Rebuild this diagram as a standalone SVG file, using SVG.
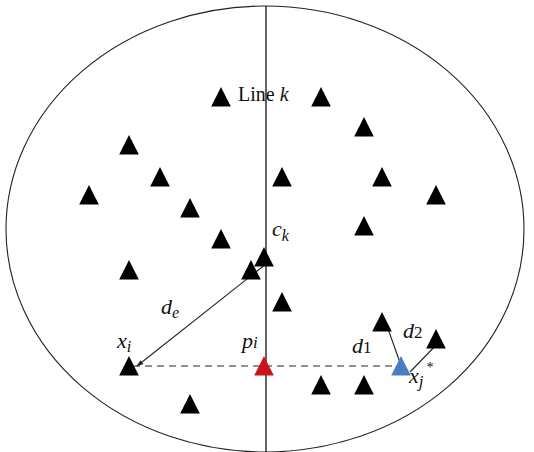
<svg xmlns="http://www.w3.org/2000/svg" width="534" height="452" viewBox="0 0 534 452">
<defs>
<style>
.tri{fill:#000}
.lbl{font-family:"Liberation Serif","DejaVu Serif",serif;fill:#111}
.it{font-style:italic}
.ln{stroke:#222;stroke-width:1.1;fill:none}
</style>
<marker id="ah" viewBox="0 0 10 10" refX="9" refY="5" markerWidth="8" markerHeight="7" orient="auto" markerUnits="userSpaceOnUse">
<path d="M0,1.5 L10,5 L0,8.5 z" fill="#222"/>
</marker>
<path id="t" d="M0,-10 L9.8,9.5 L-9.8,9.5 z"/>
</defs>
<rect width="534" height="452" fill="#fff"/>
<ellipse cx="265" cy="229" rx="259" ry="223" fill="none" stroke="#222" stroke-width="1.1"/>
<g id="connectors">
<line x1="266" y1="6" x2="266" y2="452" stroke="#111" stroke-width="1.3"/>
<line x1="133" y1="366" x2="400" y2="366" stroke="#222" stroke-width="1.1" stroke-dasharray="7,5"/>
<line class="ln" x1="266" y1="264" x2="137" y2="366" marker-end="url(#ah)"/>
<line class="ln" x1="403" y1="371" x2="387" y2="326"/>
<line class="ln" x1="410" y1="372" x2="440" y2="341"/>
</g>
<g id="nodes">
<g id="n1"><use href="#t" x="221" y="97" class="tri"/></g>
<g id="n2"><use href="#t" x="321" y="97" class="tri"/></g>
<g id="n3"><use href="#t" x="364" y="127" class="tri"/></g>
<g id="n4"><use href="#t" x="129" y="145" class="tri"/></g>
<g id="n5"><use href="#t" x="160" y="177" class="tri"/></g>
<g id="n6"><use href="#t" x="282" y="177" class="tri"/></g>
<g id="n7"><use href="#t" x="382" y="177" class="tri"/></g>
<g id="n8"><use href="#t" x="89" y="195" class="tri"/></g>
<g id="n9"><use href="#t" x="436" y="195" class="tri"/></g>
<g id="n10"><use href="#t" x="190" y="208" class="tri"/></g>
<g id="n11"><use href="#t" x="364" y="226" class="tri"/></g>
<g id="n12"><use href="#t" x="221" y="239" class="tri"/></g>
<g id="ck"><use href="#t" x="264" y="257" class="tri"/></g>
<g id="n14"><use href="#t" x="251" y="270" class="tri"/></g>
<g id="n15"><use href="#t" x="129" y="270" class="tri"/></g>
<g id="n16"><use href="#t" x="282" y="302" class="tri"/></g>
<g id="n17"><use href="#t" x="382" y="322" class="tri"/></g>
<g id="n18"><use href="#t" x="436" y="339" class="tri"/></g>
<g id="xi"><use href="#t" x="129" y="366" class="tri"/></g>
<g id="pi"><use href="#t" x="264" y="366" fill="#c8141e"/></g>
<g id="xj"><use href="#t" x="401" y="366" fill="#4a7cc4"/></g>
<g id="n19"><use href="#t" x="321" y="385" class="tri"/></g>
<g id="n20"><use href="#t" x="364" y="385" class="tri"/></g>
<g id="n21"><use href="#t" x="190" y="404" class="tri"/></g>
</g>
<g id="labels">
<text class="lbl" x="238" y="101" font-size="20">Line <tspan class="it">k</tspan></text>
<text class="lbl it" x="272" y="236" font-size="22">c<tspan font-size="16" dy="5">k</tspan></text>
<text class="lbl it" x="161" y="314" font-size="22">d<tspan font-size="16" dy="4">e</tspan></text>
<text class="lbl it" x="117" y="348" font-size="22">x<tspan font-size="16" dy="4">i</tspan></text>
<text class="lbl it" x="242" y="348" font-size="22">p<tspan font-size="17">i</tspan></text>
<text class="lbl it" x="352" y="353" font-size="22">d<tspan font-size="17" font-style="normal">1</tspan></text>
<text class="lbl it" x="403" y="338" font-size="22">d<tspan font-size="17" font-style="normal">2</tspan></text>
<text class="lbl it" x="409" y="383" font-size="22">x<tspan font-size="17" dy="4">j</tspan><tspan font-size="14" font-style="normal" dx="3" dy="-15">*</tspan></text>
</g>
</svg>
